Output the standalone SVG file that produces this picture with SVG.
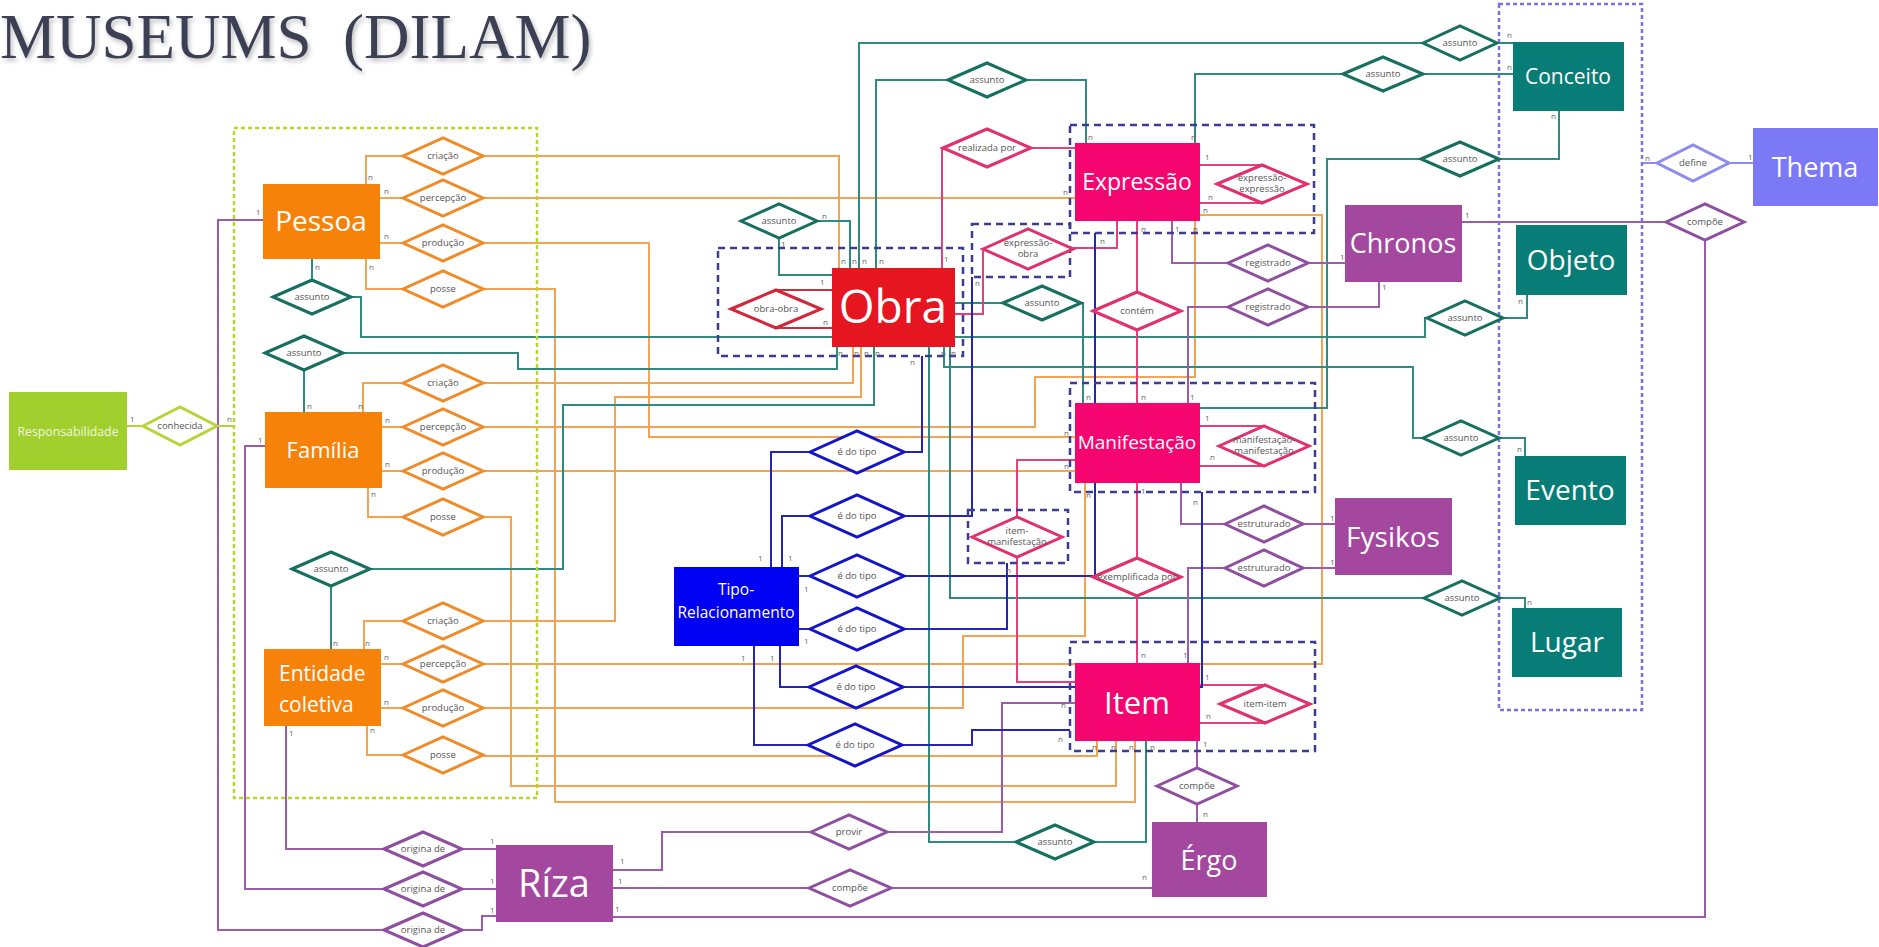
<svg xmlns="http://www.w3.org/2000/svg" width="1879" height="947" viewBox="0 0 1879 947">
<defs>
<filter id="sh" x="-5%" y="-20%" width="110%" height="150%"><feDropShadow dx="2" dy="3" stdDeviation="2" flood-color="#000" flood-opacity="0.25"/></filter>
</defs>
<style>
.c{fill:none;stroke-width:2}
.o{stroke:#f2a453}.t{stroke:#2f8a80}.p{stroke:#e2417c}.u{stroke:#9d5cab}.b{stroke:#2525b5}.r{stroke:#cf2c3c}.l{stroke:#b3d33a}.v{stroke:#8f8cf0}
.d{fill:#fff;stroke-width:3}
.do{stroke:#ef8b28}.dt{stroke:#17705f}.dp{stroke:#e0306e}.du{stroke:#8e4fa0}.db{stroke:#1515c8}.dr{stroke:#d0283a}.dl{stroke:#b5d53a}.dv{stroke:#8f8cf0}
.dt2{font-family:"Open Sans","Liberation Sans",sans-serif;font-size:9.5px;fill:#555;text-anchor:middle}
.sm{font-family:"Open Sans","Liberation Sans",sans-serif;font-size:8px;fill:#666}
.ent{font-family:"Open Sans","Liberation Sans",sans-serif;fill:#fff;text-anchor:middle}
.grp{fill:none;stroke:#3c3c90;stroke-width:2.5;stroke-dasharray:7,5}
</style>
<rect width="1879" height="947" fill="#fff"/>
<text x="0" y="58" font-family="Liberation Serif,serif" font-size="63" fill="#3d4055" filter="url(#sh)" xml:space="preserve">MUSEUMS  (DILAM)</text>

<g id="connectors">
<!-- orange -->
<polyline class="c o" points="483,156 839,156 839,268"/>
<polyline class="c o" points="483,198 1075,198"/>
<polyline class="c o" points="483,243 649,243 649,437 1075,437"/>
<polyline class="c o" points="483,289 555,289 555,802 1135,802 1135,741"/>
<polyline class="c o" points="366,184 366,156 404,156"/>
<polyline class="c o" points="380,198 404,198"/>
<polyline class="c o" points="380,243 404,243"/>
<polyline class="c o" points="366,259 366,289 404,289"/>
<polyline class="c o" points="363,412 363,383 404,383"/>
<polyline class="c o" points="382,427 404,427"/>
<polyline class="c o" points="382,471 404,471"/>
<polyline class="c o" points="368,488 368,517 404,517"/>
<polyline class="c o" points="483,383 853,383 853,347"/>
<polyline class="c o" points="483,427 1035,427 1035,377 1195,377 1195,221"/>
<polyline class="c o" points="483,471 1075,471"/>
<polyline class="c o" points="483,517 511,517 511,786 1116,786 1116,741"/>
<polyline class="c o" points="364,649 364,621 404,621"/>
<polyline class="c o" points="381,664 404,664"/>
<polyline class="c o" points="381,708 404,708"/>
<polyline class="c o" points="367,726 367,755 404,755"/>
<polyline class="c o" points="483,621 615,621 615,397 861,397 861,347"/>
<polyline class="c o" points="483,664 1322,664 1322,215 1200,215"/>
<polyline class="c o" points="483,708 963,708 963,636 1085,636 1085,483"/>
<polyline class="c o" points="483,756 1097,756 1097,741"/>
<!-- teal -->
<polyline class="c t" points="312,259 312,280"/>
<polyline class="c t" points="351,297 361,297 361,337 1425,337 1425,318 1427,318"/>
<polyline class="c t" points="1503,318 1527,318 1527,295"/>
<polyline class="c t" points="304,370 304,412"/>
<polyline class="c t" points="343,353 518,353 518,369 837,369 837,347"/>
<polyline class="c t" points="331,586 331,649"/>
<polyline class="c t" points="370,569 563,569 563,405 874,405 874,347"/>
<polyline class="c t" points="817,221 850,221 850,268"/>
<polyline class="c t" points="779,238 779,275 832,275"/>
<polyline class="c t" points="859,268 859,43 1423,43"/>
<polyline class="c t" points="1497,43 1513,43"/>
<polyline class="c t" points="876,268 876,80 948,80"/>
<polyline class="c t" points="1026,80 1086,80 1086,143"/>
<polyline class="c t" points="1195,143 1195,74 1343,74"/>
<polyline class="c t" points="1423,74 1513,74"/>
<polyline class="c t" points="1200,408 1327,408 1327,159 1421,159"/>
<polyline class="c t" points="1499,159 1559,159 1559,111"/>
<polyline class="c t" points="955,303 1003,303"/>
<polyline class="c t" points="1081,303 1083,303 1083,403"/>
<polyline class="c t" points="944,347 944,367 1413,367 1413,438 1423,438"/>
<polyline class="c t" points="1499,438 1525,438 1525,456"/>
<polyline class="c t" points="950,347 950,598 1424,598"/>
<polyline class="c t" points="1500,598 1525,598 1525,608"/>
<polyline class="c t" points="929,347 929,842 1016,842"/>
<polyline class="c t" points="1094,842 1146,842 1146,741"/>
<!-- pink / red -->
<polyline class="c p" points="942,268 942,148 943,148"/>
<polyline class="c p" points="1031,148 1075,148"/>
<polyline class="c p" points="1200,165 1262,165"/>
<polyline class="c p" points="1200,203 1262,203"/>
<polyline class="c p" points="1117,221 1117,248 1073,248"/>
<polyline class="c p" points="983,249 983,314 955,314"/>
<polyline class="c p" points="1137,221 1137,292"/>
<polyline class="c p" points="1137,330 1137,403"/>
<polyline class="c p" points="1200,426 1264,426"/>
<polyline class="c p" points="1200,466 1264,466"/>
<polyline class="c p" points="1075,460 1017,460 1017,517"/>
<polyline class="c p" points="1017,557 1017,682 1075,682"/>
<polyline class="c p" points="1137,483 1137,558"/>
<polyline class="c p" points="1137,596 1137,663"/>
<polyline class="c p" points="1200,685 1265,685"/>
<polyline class="c p" points="1200,723 1265,723"/>
<polyline class="c r" points="832,290 776,290"/>
<polyline class="c r" points="832,328 776,328"/>
<!-- purple -->
<polyline class="c u" points="1172,221 1172,263 1228,263"/>
<polyline class="c u" points="1308,263 1345,263"/>
<polyline class="c u" points="1379,282 1379,307 1308,307"/>
<polyline class="c u" points="1228,307 1188,307 1188,403"/>
<polyline class="c u" points="1181,483 1181,524 1225,524"/>
<polyline class="c u" points="1303,524 1335,524"/>
<polyline class="c u" points="1335,568 1303,568"/>
<polyline class="c u" points="1225,568 1188,568 1188,663"/>
<polyline class="c u" points="1462,222 1666,222"/>
<polyline class="c u" points="1705,240 1705,917 613,917"/>
<polyline class="c u" points="1197,741 1197,768"/>
<polyline class="c u" points="1197,804 1197,822"/>
<polyline class="c u" points="613,870 662,870 662,832 811,832"/>
<polyline class="c u" points="887,832 1002,832 1002,703 1075,703"/>
<polyline class="c u" points="613,888 809,888"/>
<polyline class="c u" points="891,888 1152,888"/>
<polyline class="c u" points="263,220 218,220 218,930 384,930"/>
<polyline class="c u" points="462,930 482,930 482,916 496,916"/>
<polyline class="c u" points="265,446 245,446 245,889 384,889"/>
<polyline class="c u" points="462,889 496,889"/>
<polyline class="c u" points="286,726 286,849 384,849"/>
<polyline class="c u" points="462,849 496,849"/>
<!-- blue -->
<polyline class="c b" points="771,567 771,452 810,452"/>
<polyline class="c b" points="904,452 922,452 922,356"/>
<polyline class="c b" points="782,567 782,516 810,516"/>
<polyline class="c b" points="904,516 972,516 972,277"/>
<polyline class="c b" points="799,576 810,576"/>
<polyline class="c b" points="904,576 1095,576 1095,233"/>
<polyline class="c b" points="799,629 810,629"/>
<polyline class="c b" points="904,629 1007,629 1007,563"/>
<polyline class="c b" points="780,646 780,687 809,687"/>
<polyline class="c b" points="903,687 1202,687 1202,492"/>
<polyline class="c b" points="754,646 754,745 808,745"/>
<polyline class="c b" points="902,745 972,745 972,730 1070,730"/>
<!-- lime / lavender -->
<polyline class="c l" points="127,426 143,426"/>
<polyline class="c l" points="217,426 234,426"/>
<polyline class="c v" points="1642,163 1657,163"/>
<polyline class="c v" points="1729,163 1753,163"/>
</g>

<g id="groups">
<rect x="234" y="128" width="303" height="670" fill="none" stroke="#b8d52c" stroke-width="2.5" stroke-dasharray="4,3"/>
<rect x="1499" y="4" width="143" height="706" fill="none" stroke="#7a72d8" stroke-width="2.5" stroke-dasharray="4,3"/>
<rect class="grp" x="718" y="248" width="245" height="108"/>
<rect class="grp" x="1070" y="125" width="244" height="108"/>
<rect class="grp" x="972" y="224" width="98" height="53"/>
<rect class="grp" x="1070" y="383" width="245" height="109"/>
<rect class="grp" x="968" y="510" width="100" height="53"/>
<rect class="grp" x="1070" y="642" width="245" height="109"/>
</g>

<g id="rel-orange">
<g id="r-criacao1"><polygon class="d do" points="403,156 443,138 483,156 443,174"/><text class="dt2" x="443" y="159">criação</text></g>
<g id="r-percepcao1"><polygon class="d do" points="403,198 443,180 483,198 443,216"/><text class="dt2" x="443" y="201">percepção</text></g>
<g id="r-producao1"><polygon class="d do" points="403,243 443,225 483,243 443,261"/><text class="dt2" x="443" y="246">produção</text></g>
<g id="r-posse1"><polygon class="d do" points="403,289 443,271 483,289 443,307"/><text class="dt2" x="443" y="292">posse</text></g>
<g id="r-criacao2"><polygon class="d do" points="403,383 443,365 483,383 443,401"/><text class="dt2" x="443" y="386">criação</text></g>
<g id="r-percepcao2"><polygon class="d do" points="403,427 443,409 483,427 443,445"/><text class="dt2" x="443" y="430">percepção</text></g>
<g id="r-producao2"><polygon class="d do" points="403,471 443,453 483,471 443,489"/><text class="dt2" x="443" y="474">produção</text></g>
<g id="r-posse2"><polygon class="d do" points="403,517 443,499 483,517 443,535"/><text class="dt2" x="443" y="520">posse</text></g>
<g id="r-criacao3"><polygon class="d do" points="403,621 443,603 483,621 443,639"/><text class="dt2" x="443" y="624">criação</text></g>
<g id="r-percepcao3"><polygon class="d do" points="403,664 443,646 483,664 443,682"/><text class="dt2" x="443" y="667">percepção</text></g>
<g id="r-producao3"><polygon class="d do" points="403,708 443,690 483,708 443,726"/><text class="dt2" x="443" y="711">produção</text></g>
<g id="r-posse3"><polygon class="d do" points="403,755 443,737 483,755 443,773"/><text class="dt2" x="443" y="758">posse</text></g>
</g>

<g id="rel-teal">
<g id="r-a1"><polygon class="d dt" points="273,297 312,280 351,297 312,314"/><text class="dt2" x="312" y="300">assunto</text></g>
<g id="r-a2"><polygon class="d dt" points="265,353 304,336 343,353 304,370"/><text class="dt2" x="304" y="356">assunto</text></g>
<g id="r-a3"><polygon class="d dt" points="292,569 331,552 370,569 331,586"/><text class="dt2" x="331" y="572">assunto</text></g>
<g id="r-a4"><polygon class="d dt" points="741,221 779,204 817,221 779,238"/><text class="dt2" x="779" y="224">assunto</text></g>
<g id="r-a5"><polygon class="d dt" points="948,80 987,63 1026,80 987,97"/><text class="dt2" x="987" y="83">assunto</text></g>
<g id="r-a6"><polygon class="d dt" points="1003,303 1042,286 1081,303 1042,320"/><text class="dt2" x="1042" y="306">assunto</text></g>
<g id="r-a7"><polygon class="d dt" points="1423,43 1460,26 1497,43 1460,60"/><text class="dt2" x="1460" y="46">assunto</text></g>
<g id="r-a8"><polygon class="d dt" points="1343,74 1383,57 1423,74 1383,91"/><text class="dt2" x="1383" y="77">assunto</text></g>
<g id="r-a9"><polygon class="d dt" points="1421,159 1460,142 1499,159 1460,176"/><text class="dt2" x="1460" y="162">assunto</text></g>
<g id="r-a10"><polygon class="d dt" points="1427,318 1465,301 1503,318 1465,335"/><text class="dt2" x="1465" y="321">assunto</text></g>
<g id="r-a11"><polygon class="d dt" points="1423,438 1461,421 1499,438 1461,455"/><text class="dt2" x="1461" y="441">assunto</text></g>
<g id="r-a12"><polygon class="d dt" points="1424,598 1462,581 1500,598 1462,615"/><text class="dt2" x="1462" y="601">assunto</text></g>
<g id="r-a13"><polygon class="d dt" points="1016,842 1055,825 1094,842 1055,859"/><text class="dt2" x="1055" y="845">assunto</text></g>
</g>

<g id="rel-pink">
<g id="r-realizada"><polygon class="d dp" points="943,148 987,129 1031,148 987,167"/><text class="dt2" x="987" y="151">realizada por</text></g>
<g id="r-ee"><polygon class="d dp" points="1217,184 1262,165 1307,184 1262,203"/><text class="dt2" x="1262" y="181">expressão-</text><text class="dt2" x="1262" y="192">expressão</text></g>
<g id="r-eo"><polygon class="d dp" points="983,249 1028,229 1073,249 1028,269"/><text class="dt2" x="1028" y="246">expressão-</text><text class="dt2" x="1028" y="257">obra</text></g>
<g id="r-contem"><polygon class="d dp" points="1093,311 1137,292 1181,311 1137,330"/><text class="dt2" x="1137" y="314">contém</text></g>
<g id="r-mm"><polygon class="d dp" points="1219,446 1264,426 1309,446 1264,466"/><text class="dt2" x="1264" y="443">manifestação-</text><text class="dt2" x="1264" y="454">manifestação</text></g>
<g id="r-im"><polygon class="d dp" points="972,537 1017,517 1062,537 1017,557"/><text class="dt2" x="1017" y="534">item-</text><text class="dt2" x="1017" y="545">manifestação</text></g>
<g id="r-exemp"><polygon class="d dp" points="1093,577 1137,558 1181,577 1137,596"/><text class="dt2" x="1137" y="580">exemplificada por</text></g>
<g id="r-ii"><polygon class="d dp" points="1220,704 1265,685 1310,704 1265,723"/><text class="dt2" x="1265" y="707">item-item</text></g>
<g id="r-oo"><polygon class="d dr" points="731,309 776,290 821,309 776,328"/><text class="dt2" x="776" y="312">obra-obra</text></g>
</g>

<g id="rel-purple">
<g id="r-reg1"><polygon class="d du" points="1228,263 1268,245 1308,263 1268,281"/><text class="dt2" x="1268" y="266">registrado</text></g>
<g id="r-reg2"><polygon class="d du" points="1228,307 1268,289 1308,307 1268,325"/><text class="dt2" x="1268" y="310">registrado</text></g>
<g id="r-est1"><polygon class="d du" points="1225,524 1264,506 1303,524 1264,542"/><text class="dt2" x="1264" y="527">estruturado</text></g>
<g id="r-est2"><polygon class="d du" points="1225,568 1264,550 1303,568 1264,586"/><text class="dt2" x="1264" y="571">estruturado</text></g>
<g id="r-comp1"><polygon class="d du" points="1666,222 1705,204 1744,222 1705,240"/><text class="dt2" x="1705" y="225">compõe</text></g>
<g id="r-comp2"><polygon class="d du" points="1157,786 1197,768 1237,786 1197,804"/><text class="dt2" x="1197" y="789">compõe</text></g>
<g id="r-provir"><polygon class="d du" points="811,832 849,815 887,832 849,849"/><text class="dt2" x="849" y="835">provir</text></g>
<g id="r-comp3"><polygon class="d du" points="809,888 850,870 891,888 850,906"/><text class="dt2" x="850" y="891">compõe</text></g>
<g id="r-orig1"><polygon class="d du" points="384,849 423,832 462,849 423,866"/><text class="dt2" x="423" y="852">origina de</text></g>
<g id="r-orig2"><polygon class="d du" points="384,889 423,872 462,889 423,906"/><text class="dt2" x="423" y="892">origina de</text></g>
<g id="r-orig3"><polygon class="d du" points="384,930 423,913 462,930 423,947"/><text class="dt2" x="423" y="933">origina de</text></g>
</g>

<g id="rel-blue">
<g id="r-t1"><polygon class="d db" points="810,452 857,431 904,452 857,473"/><text class="dt2" x="857" y="455">é do tipo</text></g>
<g id="r-t2"><polygon class="d db" points="810,516 857,495 904,516 857,537"/><text class="dt2" x="857" y="519">é do tipo</text></g>
<g id="r-t3"><polygon class="d db" points="810,576 857,555 904,576 857,597"/><text class="dt2" x="857" y="579">é do tipo</text></g>
<g id="r-t4"><polygon class="d db" points="810,629 857,608 904,629 857,650"/><text class="dt2" x="857" y="632">é do tipo</text></g>
<g id="r-t5"><polygon class="d db" points="809,687 856,666 903,687 856,708"/><text class="dt2" x="856" y="690">é do tipo</text></g>
<g id="r-t6"><polygon class="d db" points="808,745 855,724 902,745 855,766"/><text class="dt2" x="855" y="748">é do tipo</text></g>
</g>

<g id="r-conhecida"><polygon class="d dl" points="143,426 180,407 217,426 180,445"/><text class="dt2" x="180" y="429">conhecida</text></g>
<g id="r-define"><polygon class="d dv" points="1657,163 1693,145 1729,163 1693,181"/><text class="dt2" x="1693" y="166">define</text></g>

<g id="n-pessoa"><rect x="263" y="184" width="117" height="75" fill="#f7820a"/><text class="ent" x="321" y="231" font-size="28">Pessoa</text></g>
<g id="n-familia"><rect x="265" y="412" width="117" height="76" fill="#f7820a"/><text class="ent" x="323" y="458" font-size="22">Família</text></g>
<g id="n-entidade"><rect x="264" y="649" width="117" height="77" fill="#f7820a"/><text class="ent" x="279" y="681" font-size="21" style="text-anchor:start">Entidade</text><text class="ent" x="279" y="712" font-size="21" style="text-anchor:start">coletiva</text></g>
<g id="n-obra"><rect x="832" y="268" width="123" height="79" fill="#e5161f"/><text class="ent" x="893" y="323" font-size="46">Obra</text></g>
<g id="n-expressao"><rect x="1075" y="143" width="125" height="78" fill="#f5056f"/><text class="ent" x="1137" y="190" font-size="23">Expressão</text></g>
<g id="n-manifestacao"><rect x="1075" y="403" width="125" height="80" fill="#f5056f"/><text class="ent" x="1137" y="449" font-size="19">Manifestação</text></g>
<g id="n-item"><rect x="1075" y="663" width="125" height="78" fill="#f5056f"/><text class="ent" x="1137" y="714" font-size="31">Item</text></g>
<g id="n-tipo"><rect x="674" y="567" width="125" height="79" fill="#0000f2"/><text class="ent" x="736" y="595" font-size="15.5">Tipo-</text><text class="ent" x="736" y="618" font-size="15.5">Relacionamento</text></g>
<g id="n-chronos"><rect x="1345" y="205" width="117" height="77" fill="#a3479f"/><text class="ent" x="1403" y="253" font-size="27">Chronos</text></g>
<g id="n-fysikos"><rect x="1335" y="498" width="117" height="77" fill="#a3479f"/><text class="ent" x="1393" y="547" font-size="28">Fysikos</text></g>
<g id="n-riza"><rect x="496" y="845" width="117" height="77" fill="#a3479f"/><text class="ent" x="554" y="897" font-size="38">Ríza</text></g>
<g id="n-ergo"><rect x="1152" y="822" width="115" height="75" fill="#a3479f"/><text class="ent" x="1209" y="870" font-size="27">Érgo</text></g>
<g id="n-conceito"><rect x="1513" y="42" width="111" height="69" fill="#087c77"/><text class="ent" x="1568" y="84" font-size="21">Conceito</text></g>
<g id="n-objeto"><rect x="1516" y="225" width="111" height="70" fill="#087c77"/><text class="ent" x="1571" y="270" font-size="28">Objeto</text></g>
<g id="n-evento"><rect x="1515" y="456" width="111" height="69" fill="#087c77"/><text class="ent" x="1570" y="500" font-size="28">Evento</text></g>
<g id="n-lugar"><rect x="1512" y="608" width="110" height="69" fill="#087c77"/><text class="ent" x="1567" y="652" font-size="28">Lugar</text></g>
<g id="n-thema"><rect x="1753" y="128" width="125" height="78" fill="#7b79f5"/><text class="ent" x="1815" y="177" font-size="27">Thema</text></g>
<g id="n-resp"><rect x="9" y="392" width="118" height="78" fill="#a0cf2e"/><text class="ent" x="68" y="436" font-size="12.3" fill-opacity="0.85">Responsabilidade</text></g>

<g id="cardinalities">
<text class="sm" x="368" y="180">n</text><text class="sm" x="384" y="194">n</text><text class="sm" x="384" y="239">n</text><text class="sm" x="369" y="270">n</text><text class="sm" x="315" y="270">n</text><text class="sm" x="256" y="215">1</text>
<text class="sm" x="307" y="409">n</text><text class="sm" x="358" y="409">n</text><text class="sm" x="385" y="423">n</text><text class="sm" x="385" y="467">n</text><text class="sm" x="371" y="497">n</text><text class="sm" x="258" y="443">1</text>
<text class="sm" x="333" y="646">n</text><text class="sm" x="365" y="646">n</text><text class="sm" x="384" y="660">n</text><text class="sm" x="384" y="705">n</text><text class="sm" x="370" y="733">n</text><text class="sm" x="289" y="736">1</text>
<text class="sm" x="130" y="422">1</text><text class="sm" x="227" y="422">n</text>
<text class="sm" x="841" y="264">n</text><text class="sm" x="852" y="264">n</text><text class="sm" x="862" y="264">n</text><text class="sm" x="879" y="264">n</text>
<text class="sm" x="822" y="219">n</text><text class="sm" x="781" y="247">1</text><text class="sm" x="820" y="285" font-size="10">1</text><text class="sm" x="823" y="325" font-size="10">n</text>
<text class="sm" x="944" y="262" font-size="10">1</text><text class="sm" x="975" y="286" font-size="10">n</text>
<text class="sm" x="838" y="356">n</text><text class="sm" x="854" y="356">n</text><text class="sm" x="864" y="356">n</text><text class="sm" x="875" y="356">n</text><text class="sm" x="910" y="365" font-size="10">n</text><text class="sm" x="941" y="356">n</text><text class="sm" x="951" y="356">n</text>
<text class="sm" x="1088" y="140">n</text><text class="sm" x="1191" y="140">n</text><text class="sm" x="1063" y="195">n</text><text class="sm" x="1205" y="160" font-size="10">1</text><text class="sm" x="1208" y="200" font-size="10">n</text><text class="sm" x="1203" y="213">n</text>
<text class="sm" x="1141" y="232" font-size="10">n</text><text class="sm" x="1175" y="232" font-size="10">1</text><text class="sm" x="1193" y="232">n</text><text class="sm" x="1100" y="244" font-size="10">n</text>
<text class="sm" x="1340" y="260">1</text><text class="sm" x="1382" y="290">1</text><text class="sm" x="1465" y="218">1</text>
<text class="sm" x="1086" y="400">n</text><text class="sm" x="1141" y="400">n</text><text class="sm" x="1190" y="400">1</text><text class="sm" x="1205" y="421" font-size="10">1</text><text class="sm" x="1210" y="460" font-size="10">n</text><text class="sm" x="1064" y="436">n</text><text class="sm" x="1064" y="469">n</text>
<text class="sm" x="1086" y="498">n</text><text class="sm" x="1141" y="494" font-size="10">1</text><text class="sm" x="1193" y="505" font-size="10">n</text>
<text class="sm" x="1330" y="521">1</text><text class="sm" x="1330" y="565">1</text><text class="sm" x="1006" y="573" font-size="10">n</text>
<text class="sm" x="1141" y="658" font-size="10">n</text><text class="sm" x="1183" y="658">1</text><text class="sm" x="1205" y="680" font-size="10">1</text><text class="sm" x="1206" y="719" font-size="10">n</text><text class="sm" x="1061" y="708">n</text><text class="sm" x="1058" y="742" font-size="10">n</text>
<text class="sm" x="1092" y="750">n</text><text class="sm" x="1111" y="750">n</text><text class="sm" x="1129" y="750">n</text><text class="sm" x="1150" y="750">n</text><text class="sm" x="1203" y="747">1</text>
<text class="sm" x="1203" y="817">n</text><text class="sm" x="1142" y="880">n</text>
<text class="sm" x="758" y="561" font-size="10">1</text><text class="sm" x="788" y="561" font-size="10">1</text><text class="sm" x="804" y="592" font-size="10">1</text><text class="sm" x="804" y="644" font-size="10">1</text><text class="sm" x="741" y="661" font-size="10">1</text><text class="sm" x="770" y="661" font-size="10">1</text>
<text class="sm" x="490" y="844">1</text><text class="sm" x="490" y="884">1</text><text class="sm" x="490" y="913">1</text><text class="sm" x="620" y="864">1</text><text class="sm" x="618" y="884">1</text><text class="sm" x="615" y="912">1</text>
<text class="sm" x="1507" y="38">n</text><text class="sm" x="1507" y="70">n</text><text class="sm" x="1551" y="119">n</text><text class="sm" x="1518" y="304">n</text><text class="sm" x="1517" y="452">n</text><text class="sm" x="1527" y="605">n</text>
<text class="sm" x="1645" y="161">n</text><text class="sm" x="1748" y="160">1</text>
</g>
</svg>
